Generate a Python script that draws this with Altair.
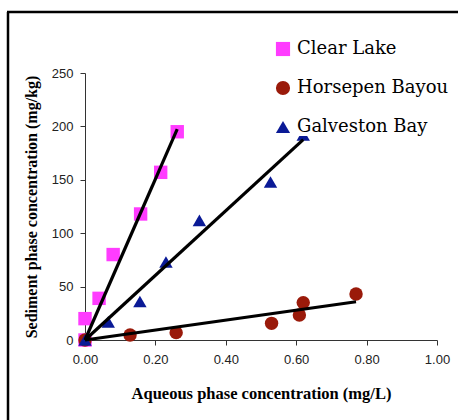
import altair as alt
import numpy as np
import pandas as pd

series_names = ["Clear Lake", "Horsepen Bayou", "Galveston Bay"]
series_colors = ["#FF3CFF", "#9A1A0A", "#0A1A96"]
series_shapes = ["square", "circle", "triangle-up"]

clear_x = [0.0, 0.0, 0.04, 0.08, 0.158, 0.215, 0.262]
clear_y = [0, 20, 39, 80, 118, 157, 195]
horse_x = [0.0, 0.128, 0.259, 0.53, 0.609, 0.62, 0.77]
horse_y = [0, 4.7, 6.9, 15.6, 23.4, 35, 43]
galv_x = [0.0, 0.066, 0.156, 0.23, 0.325, 0.527, 0.62]
galv_y = [0, 17, 36, 73, 112, 148, 192]

x_ticks = [0.0, 0.2, 0.4, 0.6, 0.8, 1.0]
y_ticks = [0, 50, 100, 150, 200, 250]

xs = [clear_x, horse_x, galv_x]
ys = [clear_y, horse_y, galv_y]

pts = pd.DataFrame(
    [{"series": n, "x": a, "y": b} for n, X, Y in zip(series_names, xs, ys) for a, b in zip(X, Y)]
)

# trendlines through the origin (least squares), spanning the data range
rows = []
for n, X, Y in zip(series_names, xs, ys):
    X = np.array(X); Y = np.array(Y)
    slope = float((X * Y).sum() / (X * X).sum())
    for xv in [0.0, float(X.max())]:
        rows.append({"series": n, "x": xv, "y": slope * xv})
lines = pd.DataFrame(rows)

SERIF = "DejaVu Serif"
TITLE_SERIF = "Liberation Serif"
SANS = "Liberation Sans"

xscale = alt.Scale(domain=[0, 1], nice=False)
yscale = alt.Scale(domain=[0, 250], nice=False)

xaxis = alt.Axis(
    values=x_ticks, format=".2f", title="Aqueous phase concentration (mg/L)",
    grid=False, domainColor="#333", tickColor="#333", tickSize=5, labelFlush=False,
    labelFont=SANS, labelFontSize=13, labelColor="#222", labelPadding=8,
    titleFont=TITLE_SERIF, titleFontSize=16.5, titleFontWeight="bold", titleColor="#000",
    titleY=53, titleBaseline="middle",
)
yaxis = alt.Axis(
    values=y_ticks, title="Sediment phase concentration (mg/kg)",
    grid=False, domainColor="#333", tickColor="#333", tickSize=5, labelFlush=False,
    labelFont=SANS, labelFontSize=13, labelColor="#222", labelPadding=7,
    titleFont=TITLE_SERIF, titleFontSize=16, titleFontWeight="bold", titleColor="#000",
    titleX=-54, titleBaseline="middle",
)

legend = alt.Legend(
    title=None, orient="none", legendX=189, legendY=-33, fillColor="white", padding=0,
    symbolSize=200, symbolStrokeWidth=0, labelFont=SERIF, labelFontSize=18,
    labelColor="#000", labelOffset=5, rowPadding=21, symbolOpacity=1,
)

line_layer = alt.Chart(lines).mark_line(color="black", strokeWidth=3.2).encode(
    x=alt.X("x:Q", scale=xscale, axis=xaxis),
    y=alt.Y("y:Q", scale=yscale, axis=yaxis),
    detail="series:N",
)

point_layer = alt.Chart(pts).mark_point(filled=True, size=180, opacity=1).encode(
    x=alt.X("x:Q", scale=xscale),
    y=alt.Y("y:Q", scale=yscale),
    color=alt.Color("series:N", scale=alt.Scale(domain=series_names, range=series_colors),
                    legend=legend),
    shape=alt.Shape("series:N", scale=alt.Scale(domain=series_names, range=series_shapes),
                    legend=legend),
)

border_data = alt.Data(values=[{"k": 1}])
left_border = alt.Chart(border_data).mark_rule(color="black", strokeWidth=2.5).encode(
    x=alt.value(-77), y=alt.value(-61), y2=alt.value(400)
)
top_border = alt.Chart(border_data).mark_rule(color="black", strokeWidth=2.5).encode(
    x=alt.value(-78), x2=alt.value(400), y=alt.value(-61)
)

chart = alt.layer(left_border, top_border, point_layer, line_layer).properties(
    width=352, height=267,
    padding={"left": 85, "top": 73, "right": 21, "bottom": 80},
    autosize=alt.AutoSizeParams(type="none"),
).configure_view(stroke=None)

chart.save("out.html", embed_options={"renderer": "svg", "actions": False})
